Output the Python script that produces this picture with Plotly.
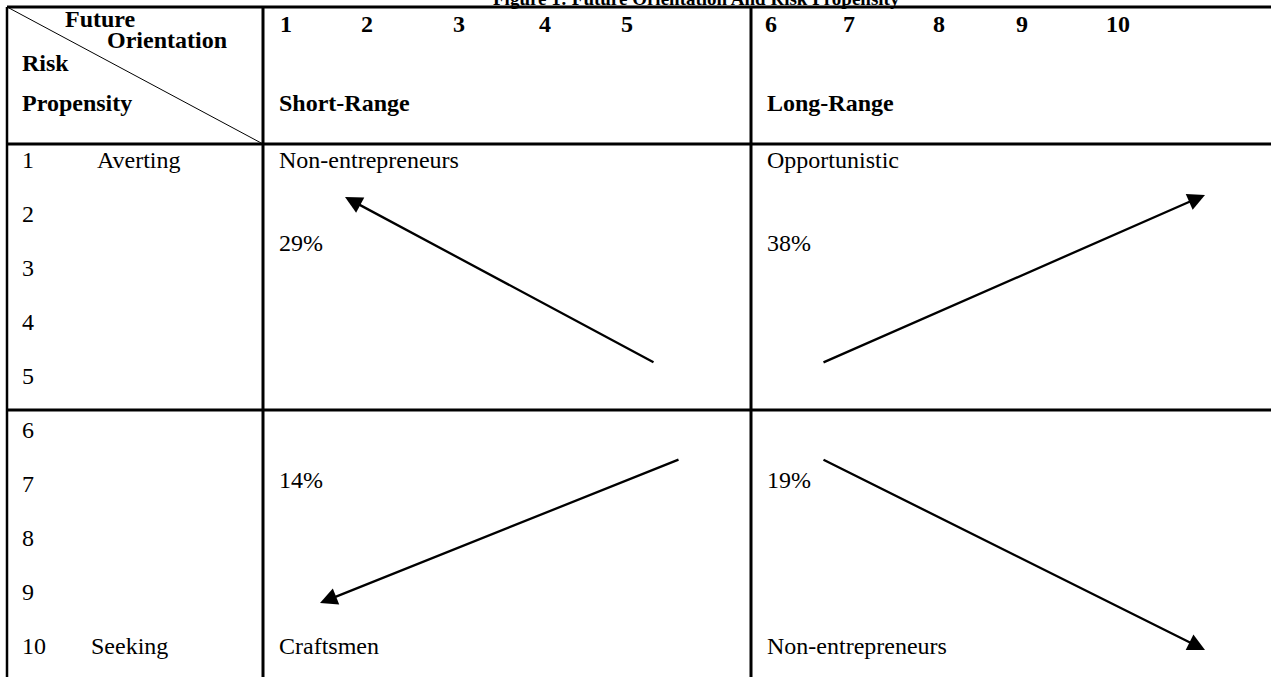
import plotly.graph_objects as go

# ---------------- data ----------------
title_text = "Figure 1: Future Orientation And Risk Propensity"
future_short_ticks = ["1", "2", "3", "4", "5"]
future_long_ticks = ["6", "7", "8", "9", "10"]
risk_ticks = ["1", "2", "3", "4", "5", "6", "7", "8", "9", "10"]
risk_end_labels = ["Averting", "Seeking"]
corner_labels = ["Future", "Orientation", "Risk", "Propensity"]
range_labels = ["Short-Range", "Long-Range"]
quadrant_top_labels = ["Non-entrepreneurs", "Opportunistic"]
quadrant_bottom_labels = ["Craftsmen", "Non-entrepreneurs"]
quadrant_shares = [29, 38, 14, 19]   # TL, TR, BL, BR (%)

# ---------------- geometry (pixels) ----------------
W, H = 1271, 677
COL = [7, 263, 751, 1271]
ROW = [7, 144, 410, 677]
short_tick_x = [286, 367, 459, 545, 627]
long_tick_x = [771, 849, 939, 1022, 1118]
tick_y = 24
risk_y0, risk_dy = 160, 54.0
text_pad = 14
FONT = "Liberation Serif"
FS = 24

fig = go.Figure()
fig.add_trace(go.Scatter(x=[0, W], y=[0, H], mode="markers",
                         marker=dict(opacity=0), hoverinfo="skip", showlegend=False))

shapes = []
def line(x0, y0, x1, y1, w=3):
    shapes.append(dict(type="line", xref="x", yref="y", x0=x0, y0=y0, x1=x1, y1=y1,
                       line=dict(color="black", width=w)))

line(COL[0], ROW[0], W, ROW[0], 3)
line(COL[0], ROW[0], COL[0], H, 2.5)
line(COL[1], ROW[0], COL[1], H, 3)
line(COL[2], ROW[0], COL[2], H, 3)
line(COL[0], ROW[1], W, ROW[1], 3)
line(COL[0], ROW[2], W, ROW[2], 3)
line(COL[0] + 2, ROW[0] + 1, COL[1], ROW[1], 1)

ann = []
def txt(x, y, s, size=FS, bold=False, anchor="left"):
    ann.append(dict(x=x, y=y, xref="x", yref="y", text=(f"<b>{s}</b>" if bold else s),
                    showarrow=False, xanchor=anchor, yanchor="middle",
                    font=dict(family=FONT, size=size, color="black")))

# title (partly cut off at the top edge) - paper reference so it is not hidden
ann.append(dict(x=696 / W, y=1 + 1.0 / H, xref="paper", yref="paper",
                text=f"<b>{title_text}</b>", showarrow=False,
                xanchor="center", yanchor="middle",
                font=dict(family=FONT, size=19, color="black")))

# header corner cell
corner_pos = [(63, 19), (105, 40), (20, 63), (20, 103)]
for s, (x, y) in zip(corner_labels, corner_pos):
    txt(x, y, s, bold=True)

for s, x in zip(future_short_ticks, short_tick_x):
    txt(x, tick_y, s, bold=True, anchor="center")
for s, x in zip(future_long_ticks, long_tick_x):
    txt(x, tick_y, s, bold=True, anchor="center")
txt(COL[1] + text_pad, 103, range_labels[0], bold=True)
txt(COL[2] + text_pad, 103, range_labels[1], bold=True)

# risk scale
for i, s in enumerate(risk_ticks):
    txt(20, risk_y0 + i * risk_dy, s)
txt(95, risk_y0, risk_end_labels[0])
txt(89, risk_y0 + 9 * risk_dy, risk_end_labels[1])

# quadrant texts
top_y, bot_y = risk_y0, risk_y0 + 9 * risk_dy
share_y = [243, 243, 480, 480]
share_x = [COL[1] + text_pad, COL[2] + text_pad, COL[1] + text_pad, COL[2] + text_pad]
txt(COL[1] + text_pad, top_y, quadrant_top_labels[0])
txt(COL[2] + text_pad, top_y, quadrant_top_labels[1])
txt(COL[1] + text_pad, bot_y, quadrant_bottom_labels[0])
txt(COL[2] + text_pad, bot_y, quadrant_bottom_labels[1])
for v, x, y in zip(quadrant_shares, share_x, share_y):
    txt(x, y, f"{v}%")

# arrows (tail -> head) within the quadrants
arrows = [((655, 363), (345, 197)),
          ((822, 363), (1205, 195)),
          ((680, 459), (320, 603)),
          ((822, 459), (1205, 650))]
for (tx, ty), (hx, hy) in arrows:
    ann.append(dict(x=hx, y=hy, ax=tx, ay=ty, xref="x", yref="y", axref="x", ayref="y",
                    text="", showarrow=True, arrowhead=2, arrowsize=1.5, arrowwidth=2.3,
                    arrowcolor="black", standoff=0, startstandoff=0))

fig.update_layout(
    width=W, height=H, margin=dict(l=0, r=0, t=0, b=0),
    paper_bgcolor="white", plot_bgcolor="white",
    xaxis=dict(range=[0, W], visible=False, fixedrange=True),
    yaxis=dict(range=[H, 0], visible=False, fixedrange=True),
    shapes=shapes, annotations=ann, showlegend=False,
)
fig.write_html(
    "out.html",
    config={"displayModeBar": False},
    post_script="document.documentElement.style.overflow='hidden';"
                "document.body.style.margin='0';document.body.style.overflow='hidden';",
)
